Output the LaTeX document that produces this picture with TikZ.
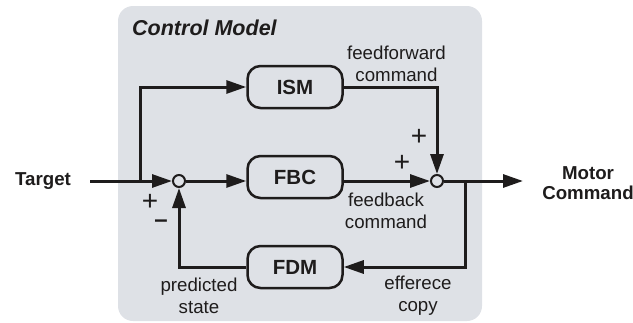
\documentclass[tikz,border=0pt]{standalone}
\usepackage{fontspec}
\setmainfont{Liberation Sans}
\usetikzlibrary{arrows.meta}
\definecolor{panelgray}{RGB}{222,225,230}
\definecolor{inkblack}{RGB}{30,28,28}
\tikzset{
  blockbox/.style={draw=inkblack, line width=2.5pt, rounded corners=13pt, fill=panelgray,
    minimum width=95pt, minimum height=42pt, inner sep=0pt,
    font=\fontsize{20.5}{24}\selectfont\bfseries, text=inkblack},
  sumnode/.style={draw=inkblack, circle, line width=2pt, minimum size=12pt, inner sep=0pt, fill=panelgray},
  flow/.style={draw=inkblack, line width=3pt, -{Triangle[length=20pt,width=13pt]}},
  lbl/.style={align=center, inner sep=0pt, text=inkblack, font=\fontsize{18.7}{22}\selectfont},
  biglbl/.style={align=center, inner sep=0pt, text=inkblack, font=\fontsize{18.7}{20}\selectfont\bfseries},
  signlbl/.style={inner sep=0pt, text=inkblack, font=\fontsize{28}{28}\selectfont},
  minuslbl/.style={inner sep=0pt, text=inkblack, font=\fontsize{24}{24}\selectfont\bfseries},
}
\begin{document}
\begin{tikzpicture}[x=1pt,y=-1pt]
\useasboundingbox (0,0) rectangle (633,322);
\fill[panelgray, rounded corners=15pt] (118,6) rectangle (482,321);
\node[anchor=base west, inner sep=0pt, text=inkblack, font=\fontsize{21.5}{24}\selectfont\bfseries\itshape] (title) at (132,35) {Control Model};

\node[blockbox] (ism) at (295,87) {ISM};
\node[blockbox] (fbc) at (295,177) {FBC};
\node[blockbox] (fdm) at (295,267) {FDM};

\node[sumnode] (sum1) at (179,181) {};
\node[sumnode] (sum2) at (437,181) {};

\node[biglbl] (target) at (43,181) {Target};
\node[biglbl] (motor) at (588,183) {Motor\\Command};

\coordinate (tin) at (90,181);
\coordinate (br1) at (140,181);
\coordinate (br2) at (465,181);
\coordinate (tout) at (523,181);

\draw[flow] (tin) -- (sum1);
\draw[flow] (br1) |- (ism.west);
\draw[flow] (sum1) -- (sum1 -| fbc.west);
\draw[flow] (fbc.east |- sum2) -- (sum2);
\draw[flow] (ism.east) -| (sum2);
\draw[flow] (sum2) -- (tout);
\draw[flow] (br2) |- (fdm.east);
\draw[flow] (fdm.west) -| (sum1);

\node[lbl] (ffl) at (396.5,64) {feedforward\\command};
\node[lbl] (fbl) at (386,210.5) {feedback\\command};
\node[lbl] (psl) at (199,295.5) {predicted\\state};
\node[lbl] (ecl) at (418,296) {efferece\\copy};

\node[signlbl] (p1) at (150,202) {+};
\node[minuslbl] (m1) at (161,224) {–};
\node[signlbl] (p2) at (419,137) {+};
\node[signlbl] (p3) at (402,163) {+};
\end{tikzpicture}
\end{document}
